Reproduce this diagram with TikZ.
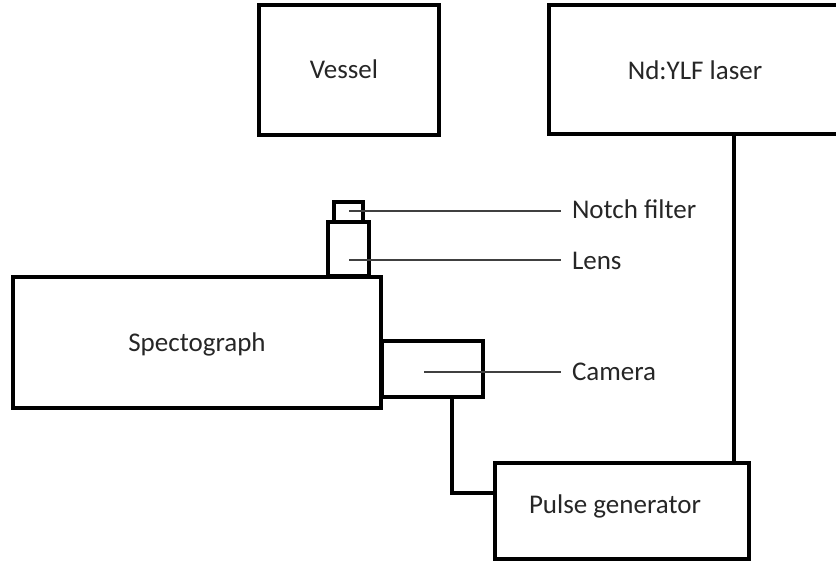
\documentclass[tikz,border=0pt]{standalone}
\usepackage{fontspec}
\setmainfont{Carlito}
\begin{document}
\begin{tikzpicture}[x=1pt,y=-1pt,
  box/.style={draw=black,line width=3.2pt,rectangle,inner sep=0pt,outer sep=0pt},
  conn/.style={draw=black,line width=4pt},
  leader/.style={draw=black!75,line width=1.3pt},
  lbl/.style={inner sep=0pt,outer sep=0pt,text=black!85,font=\fontsize{27}{32}\selectfont}]
\useasboundingbox (0,0) rectangle (836,564);
\clip (0,0) rectangle (836,564);
% boxes
\node[box,minimum width=180pt,minimum height=130pt] (vessel) at (349,70) {};
\node[box,minimum width=296pt,minimum height=129pt] (laser) at (697,69.5) {};
\node[box,minimum width=29pt,minimum height=20pt] (notch) at (348.5,212) {};
\node[box,minimum width=41pt,minimum height=54pt] (lens) at (348.5,249) {};
\node[box,minimum width=368pt,minimum height=131pt] (spec) at (197,342.5) {};
\node[box,minimum width=101pt,minimum height=56pt] (camera) at (432.5,369) {};
\node[box,minimum width=254pt,minimum height=96pt] (pulse) at (622,511) {};
% texts
\node[lbl,anchor=base] (vesseltxt) at (344,79) {Vessel};
\node[lbl,anchor=base] (lasertxt) at (695,80) {Nd:YLF laser};
\node[lbl,anchor=base] (spectxt) at (197,352) {Spectograph};
\node[lbl,anchor=base] (pulsetxt) at (615,513) {Pulse generator};
\node[lbl,anchor=base west] (notchlbl) at (572,219) {Notch filter};
\node[lbl,anchor=base west] (lenslbl) at (572,270) {Lens};
\node[lbl,anchor=base west] (cameralbl) at (572,380) {Camera};
% leader lines
\coordinate (lend) at (561,0);
\coordinate (notchp) at (349,211);
\coordinate (lensp) at (349,260);
\coordinate (camp) at (424,372);
\draw[leader] (notchp) -- (notchp -| lend);
\draw[leader] (lensp) -- (lensp -| lend);
\draw[leader] (camp) -- (camp -| lend);
% connectors
\coordinate (lx) at (734,0);
\coordinate (cx) at (452,0);
\coordinate (py) at (0,493);
\draw[conn] (laser.south -| lx) -- (pulse.north -| lx);
\draw[conn] (camera.south -| cx) |- (pulse.west |- py);
\end{tikzpicture}
\end{document}
